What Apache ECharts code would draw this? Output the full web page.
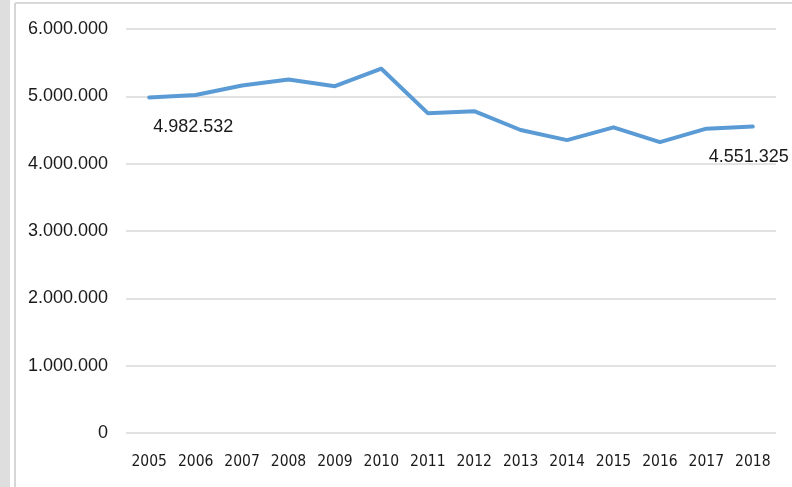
<!DOCTYPE html>
<html>
<head>
<meta charset="utf-8">
<script src="https://cdn.jsdelivr.net/npm/echarts@6/dist/echarts.min.js"></script>
<style>
html,body{margin:0;padding:0;background:#fff;}
#c{width:792px;height:487px;}
</style>
</head>
<body>
<div id="c"></div>
<script>
const years = ['2005','2006','2007','2008','2009','2010','2011','2012','2013','2014','2015','2016','2017','2018'];
const values = [4982532, 5020000, 5160000, 5250000, 5150000, 5410000, 4750000, 4780000, 4500000, 4350000, 4540000, 4320000, 4520000, 4551325];
const yTicks = [0, 1000000, 2000000, 3000000, 4000000, 5000000, 6000000];

function fmt(v){ return String(v).replace(/\B(?=(\d{3})+(?!\d))/g, '.'); }

const chart = echarts.init(document.getElementById('c'), null, {renderer:'canvas'});
const seriesData = values.map((v, i) => {
  const d = {value: v};
  if (i === 0) {
    d.label = {show: true, position: 'bottom', offset: [44, 15]};
  } else if (i === values.length - 1) {
    d.label = {show: true, position: 'bottom', offset: [-4, 16]};
  }
  return d;
});

chart.setOption({
  animation: false,
  grid: {left: 126, right: 16, top: 29, bottom: 54, containLabel: false},
  graphic: [
    {type: 'rect', shape: {x: 0, y: 0, width: 10, height: 487}, style: {fill: '#dedede'}, silent: true},
    {type: 'line', shape: {x1: 15, y1: 3, x2: 15, y2: 487}, style: {stroke: '#d6d6d6', lineWidth: 2}, silent: true},
    {type: 'line', shape: {x1: 15, y1: 3, x2: 792, y2: 3}, style: {stroke: '#d9d9d9', lineWidth: 2}, silent: true}
  ],
  xAxis: {
    type: 'category',
    data: years,
    boundaryGap: true,
    axisLine: {show: false},
    axisTick: {show: false},
    axisLabel: {color: '#1a1a1a', fontFamily: "'Liberation Sans Narrow', 'DejaVu Sans Condensed', 'Liberation Sans', sans-serif", fontSize: 15.5, margin: 21, interval: 0}
  },
  yAxis: {
    type: 'value',
    min: yTicks[0],
    max: yTicks[yTicks.length - 1],
    interval: 1000000,
    axisLine: {show: false},
    axisTick: {show: false},
    splitLine: {lineStyle: {color: '#d9d9d9', width: 1.5}},
    axisLabel: {color: '#1a1a1a', fontFamily: "'Liberation Sans', sans-serif", fontSize: 18, margin: 18, formatter: v => fmt(v)}
  },
  series: [{
    type: 'line',
    data: seriesData,
    symbol: 'circle',
    symbolSize: 1,
    showSymbol: true,
    itemStyle: {color: '#5b9bd5'},
    lineStyle: {color: '#5b9bd5', width: 4, join: 'round', cap: 'round'},
    label: {show: false, color: '#1a1a1a', fontFamily: "'Liberation Sans', sans-serif", fontSize: 18, formatter: p => fmt(p.value)}
  }]
});
</script>
</body>
</html>
